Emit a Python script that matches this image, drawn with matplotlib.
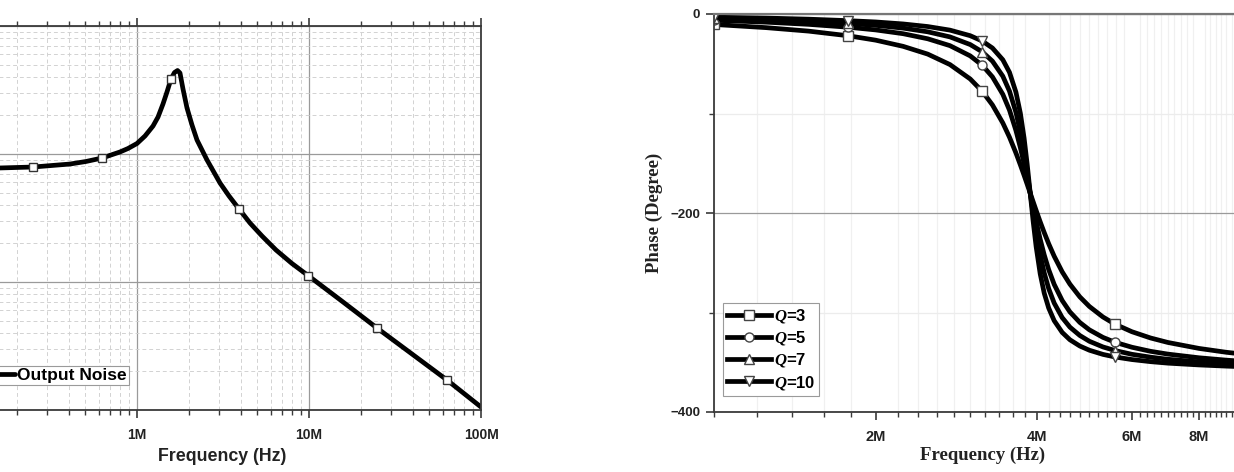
import matplotlib
matplotlib.use("Agg")
import matplotlib.pyplot as plt
from matplotlib.ticker import FixedLocator, LogLocator, MultipleLocator, NullFormatter

plt.rcParams['mathtext.fontset'] = 'custom'
plt.rcParams['mathtext.it'] = 'Liberation Serif:italic:bold'

# left panel: output noise spectrum (log-log, arbitrary units)
noise_freq = [1e5, 1.6e5, 2.48e5, 4.08e5, 5.05e5, 6.26e5, 7.96e5, 8.865e5, 1.0e6,
              1.113e6, 1.239e6, 1.325e6, 1.416e6, 1.494e6, 1.576e6, 1.652e6, 1.72e6,
              1.778e6, 1.851e6, 1.953e6, 2.088e6, 2.233e6, 2.553e6, 3.039e6, 3.427e6,
              3.917e6, 4.539e6, 5.33e6, 6.43e6, 7.96e6, 9.87e6, 1.577e7, 2.485e7,
              3.97e7, 6.343e7, 1e8]
noise_val = [77.1, 77.8, 79.1, 83.5, 87.4, 93.0, 103.7, 110.4, 120.8,
             138.2, 165.4, 194.5, 245.8, 305.2, 385.3, 433.2, 449.0,
             429.5, 322.1, 228.8, 168.5, 128.6, 89.8, 59.3, 47.0,
             37.2, 28.9, 22.88, 17.78, 13.95, 11.24, 6.98, 4.37,
             2.738, 1.715, 1.055]
noise_marks = [2, 5, 14, 25, 30, 32, 34]

# right panel: phase for different Q
phase_freq = [1.0, 1.25, 1.5, 1.78, 2.0, 2.25, 2.5, 2.75, 3.0, 3.16, 3.3, 3.45, 3.55,
              3.65, 3.72, 3.78, 3.83, 3.88, 3.93, 3.98, 4.05, 4.12, 4.2, 4.3, 4.45,
              4.6, 4.8, 5.0, 5.3, 5.58, 6.0, 6.5, 7.0, 8.0, 9.0, 10.0]
phase_q3 = [-10.5, -13.7, -17.2, -21.9, -26.3, -32.5, -40.3, -50.8, -65.3, -77.8, -91.4,
            -109.5, -123.8, -139.7, -151.7, -162.2, -171.1, -180, -188.8, -197.4, -208.9,
            -219.6, -230.9, -243.4, -259.1, -271.5, -284.3, -293.9, -304.5, -311.7,
            -319.3, -325.6, -330.1, -336.1, -340.0, -342.7]
phase_q5 = [-6.3, -8.2, -10.4, -13.3, -16.0, -19.8, -24.9, -31.8, -42.1, -51.6, -63.2,
            -80.7, -96.6, -117.1, -134.4, -150.7, -165.2, -180, -194.6, -208.5, -226.4,
            -242.0, -256.9, -271.7, -287.9, -299.4, -310.0, -317.4, -325.0, -329.9,
            -334.9, -339.0, -341.8, -345.5, -347.9, -349.6]
phase_q7 = [-4.5, -5.9, -7.4, -9.5, -11.4, -14.2, -17.9, -23.0, -30.7, -38.1, -47.4,
            -62.5, -77.5, -98.9, -119.0, -139.8, -159.4, -180, -200.3, -219.2, -241.9,
            -260.1, -276.0, -290.5, -305.1, -314.7, -323.1, -328.9, -334.6, -338.2,
            -342.0, -344.9, -347.0, -349.6, -351.3, -352.5]
phase_q10 = [-3.2, -4.1, -5.2, -6.7, -8.0, -10.0, -12.6, -16.2, -21.8, -27.2, -34.2,
             -46.0, -58.6, -78.6, -99.8, -124.8, -150.9, -180, -208.7, -233.9, -261.2,
             -280.5, -295.5, -308.2, -320.0, -327.4, -333.7, -337.9, -342.1, -344.7,
             -347.3, -349.4, -350.9, -352.7, -353.9, -354.8]
phase_marks = [0, 3, 9, 29, 35]
q_labels = [r'$\mathit{Q}$=3', r'$\mathit{Q}$=5', r'$\mathit{Q}$=7', r'$\mathit{Q}$=10']
q_markers = ['s', 'o', '^', 'v']

W, H = 1234, 472
fig = plt.figure(figsize=(W / 100, H / 100), dpi=100)

sans = 'Liberation Sans'
serif = 'Liberation Serif'
spine_c = '#3a3a3a'

# ---------- left panel ----------
ax1 = fig.add_axes([-35 / W, 62 / H, 516 / W, 384 / H])
ax1.plot(noise_freq, noise_val, color='black', lw=3.4, marker='s', markevery=noise_marks,
         markersize=5.5, markerfacecolor='white', markeredgecolor='#333333', markeredgewidth=1,
         label='Output Noise', solid_capstyle='round', solid_joinstyle='round')
ax1.set_xscale('log')
ax1.set_yscale('log')
ax1.set_xlim(1e5, 1e8)
ax1.set_ylim(1, 1000)
ax1.xaxis.set_major_locator(FixedLocator([1e6, 1e7, 1e8]))
ax1.set_xticklabels(['1M', '10M', '100M'])
ax1.xaxis.set_minor_locator(LogLocator(base=10, subs=range(2, 10)))
ax1.xaxis.set_minor_formatter(NullFormatter())
ax1.yaxis.set_minor_locator(LogLocator(base=10, subs=range(2, 10)))
ax1.yaxis.set_minor_formatter(NullFormatter())
ax1.grid(True, which='major', color='#9a9a9a', lw=0.9)
ax1.grid(True, which='minor', color='#d2d2d2', lw=0.7, linestyle=(0, (4, 3)))
ax1.set_axisbelow(True)
for s in ax1.spines.values():
    s.set_color(spine_c)
    s.set_linewidth(1.3)
ax1.tick_params(axis='x', which='both', top=True, direction='out', color=spine_c)
ax1.tick_params(axis='x', which='major', length=6, width=1.2, pad=7)
ax1.tick_params(axis='x', which='minor', length=3.5, width=1.0)
ax1.tick_params(axis='y', which='both', left=False, right=False, labelleft=False)
for lab in ax1.get_xticklabels():
    lab.set_fontfamily(sans)
    lab.set_fontweight('bold')
    lab.set_fontsize(10)
    lab.set_color('#222222')
ax1.set_xlabel('Frequency (Hz)', fontfamily=sans, fontweight='bold', fontsize=12.8, color='#222222')
ax1.xaxis.set_label_coords(0.498, -0.1)
leg1 = ax1.legend(loc='upper right', bbox_to_anchor=(129 / W, 1 - 366 / H),
                  bbox_transform=fig.transFigure, prop={'family': sans, 'weight': 'bold', 'size': 12.5},
                  handlelength=2.5, handletextpad=0.15, borderpad=0.12, borderaxespad=0,
                  fancybox=False, framealpha=1)
leg1.get_frame().set_edgecolor('#9a9a9a')
leg1.get_frame().set_linewidth(0.8)

# ---------- right panel ----------
ax2 = fig.add_axes([714 / W, 60 / H, 537 / W, 398 / H])
freq_hz = [f * 1e6 for f in phase_freq]
for vals, mk, lab in zip([phase_q3, phase_q5, phase_q7, phase_q10], q_markers, q_labels):
    ax2.plot(freq_hz, vals, color='black', lw=3.4, marker=mk, markevery=phase_marks,
             markersize=6.5, markerfacecolor='white', markeredgecolor='#444444',
             markeredgewidth=1, label=lab)
ax2.set_xscale('log')
ax2.set_xlim(1e6, 1e7)
ax2.set_ylim(-400, 0)
ax2.xaxis.set_major_locator(FixedLocator([2e6, 4e6, 6e6, 8e6]))
ax2.set_xticklabels(['2M', '4M', '6M', '8M'])
ax2.xaxis.set_minor_locator(MultipleLocator(2e5))
ax2.xaxis.set_minor_formatter(NullFormatter())
ax2.yaxis.set_major_locator(FixedLocator([-400, -200, 0]))
ax2.yaxis.set_minor_locator(FixedLocator([-300, -100]))
ax2.grid(True, axis='y', which='major', color='#9a9a9a', lw=0.9)
ax2.grid(True, axis='y', which='minor', color='#ececec', lw=0.9)
ax2.grid(True, axis='x', which='minor', color='#f0f0f0', lw=0.9)
ax2.set_axisbelow(True)
for s in ax2.spines.values():
    s.set_color(spine_c)
    s.set_linewidth(1.3)
ax2.spines['top'].set_color('#777777')
ax2.spines['top'].set_linewidth(1.6)
ax2.tick_params(which='both', direction='out', color=spine_c)
ax2.tick_params(axis='x', which='major', length=6, width=1.2, pad=7)
ax2.tick_params(axis='x', which='minor', length=3.5, width=1.0)
ax2.tick_params(axis='y', which='major', length=6, width=1.2, pad=4)
ax2.tick_params(axis='y', which='minor', length=3.5, width=1.0)
for lab in ax2.get_xticklabels():
    lab.set_fontfamily(sans)
    lab.set_fontweight('bold')
    lab.set_fontsize(10.5)
    lab.set_color('#222222')
for lab in ax2.get_yticklabels():
    lab.set_fontfamily(sans)
    lab.set_fontweight('bold')
    lab.set_fontsize(9.5)
    lab.set_color('#222222')
ax2.set_xlabel('Frequency (Hz)', fontfamily=serif, fontweight='bold', fontsize=13.5, color='#222222')
ax2.xaxis.set_label_coords(0.501, -0.088)
ax2.set_ylabel('Phase (Degree)', fontfamily=serif, fontweight='bold', fontsize=13.5, color='#222222')
ax2.yaxis.set_label_coords(-0.095, 0.5)
leg2 = ax2.legend(loc='upper left', bbox_to_anchor=(723 / W, 1 - 303 / H),
                  bbox_transform=fig.transFigure, prop={'family': sans, 'weight': 'bold', 'size': 12},
                  handlelength=2.6, handletextpad=0.2, borderpad=0.25, labelspacing=0.25,
                  borderaxespad=0, fancybox=False, framealpha=1)
leg2.get_frame().set_edgecolor('#9a9a9a')
leg2.get_frame().set_linewidth(0.8)

fig.savefig('out.png', dpi=100)
